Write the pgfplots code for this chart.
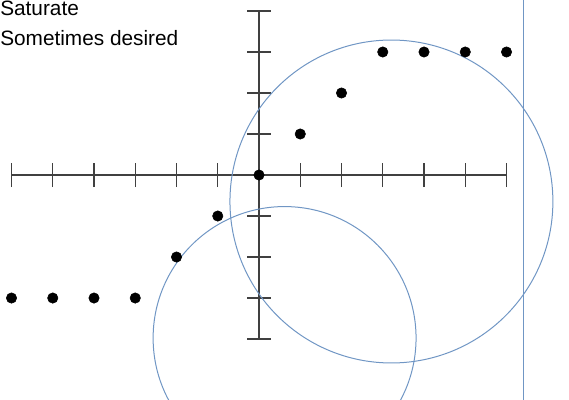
\documentclass[border=0pt]{standalone}
\usepackage{pgfplots}
\pgfplotsset{compat=1.18}
\usepackage{fontspec}
\setmainfont{Liberation Sans}
\definecolor{axisgray}{HTML}{404040}
\definecolor{ringblue}{RGB}{112,150,196}
\begin{document}
\begin{tikzpicture}
\begin{axis}[
  scale only axis, width=426.75pt, height=299.25pt,
  xmin=-6.279, xmax=7.515, ymin=-5.463, ymax=4.268,
  axis lines=middle, axis line style={draw=none},
  xtick={-6,...,6}, ytick={-4,...,4},
  xticklabels={}, yticklabels={},
  tick align=center, major tick length=18pt,
  tick style={axisgray, line width=0.8pt},
  clip=true,
]
% axis cross, stopping at the outer ticks
\draw[axisgray, line width=0.8pt] (axis cs:-6,0) -- (axis cs:6,0);
\draw[axisgray, line width=0.8pt] (axis cs:0,-4) -- (axis cs:0,4);
% circles and vertical reference line
\draw[ringblue, line width=0.75pt] (axis cs:3.21,-0.646) circle[radius=121.1pt];
\draw[ringblue, line width=0.75pt] (axis cs:0.62,-3.976) circle[radius=98.6pt];
\draw[ringblue, line width=0.75pt] (axis cs:6.4,-6) -- (axis cs:6.4,5);
% saturating response
\addplot[only marks, mark=*, mark size=3.9pt, black] coordinates {
  (-6,-3) (-5,-3) (-4,-3) (-3,-3) (-2,-2) (-1,-1) (0,0)
  (1,1) (2,2) (3,3) (4,3) (5,3) (6,3)
};
\node[anchor=base west, inner sep=0pt, font=\fontsize{15.6pt}{18pt}\selectfont] at ([yshift=-11.25pt]rel axis cs:0,1) {Saturate};
\node[anchor=base west, inner sep=0pt, font=\fontsize{15.6pt}{18pt}\selectfont] at ([yshift=-33.75pt]rel axis cs:0,1) {Sometimes desired};
\end{axis}
\pgfresetboundingbox
\path (current axis.south west) rectangle (current axis.north east);
\end{tikzpicture}
\end{document}
